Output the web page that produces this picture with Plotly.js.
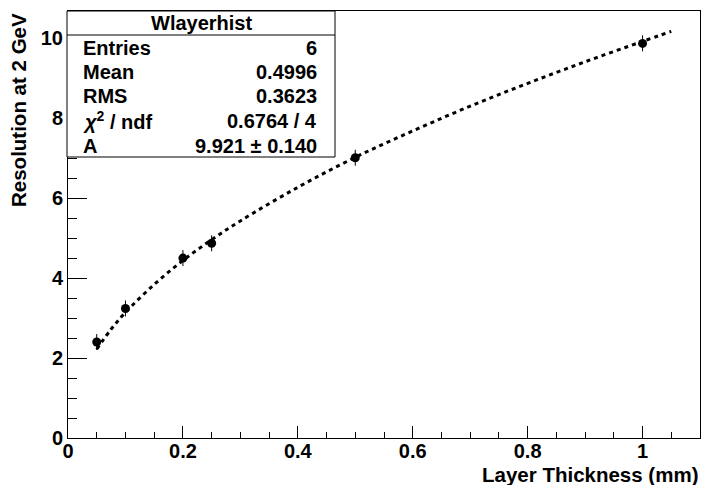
<!DOCTYPE html>
<html>
<head>
<meta charset="utf-8">
<script src="https://cdn.plot.ly/plotly-3.0.1.min.js"></script>
<style>html,body{margin:0;padding:0;background:#fff;}#chart{width:702px;height:485px;}</style>
</head>
<body>
<div id="chart"></div>
<script>
// Data points (layer thickness in mm, resolution at 2 GeV)
var thickness = [0.05, 0.1, 0.2, 0.25, 0.5, 1.0];
var resolution = [2.40, 3.24, 4.50, 4.87, 7.01, 9.87];
var resolutionErr = [0.20, 0.20, 0.20, 0.20, 0.20, 0.20];

// Fit curve
var fitX = [0.05, 0.075, 0.1, 0.15, 0.2, 0.25, 0.3, 0.4, 0.5, 0.6, 0.7, 0.8, 0.9, 1.0, 1.05];
var fitY = [2.22, 2.72, 3.14, 3.84, 4.44, 4.96, 5.43, 6.27, 7.02, 7.68, 8.30, 8.87, 9.41, 9.92, 10.17];

// Stats box
var statsTitle = "Wlayerhist";
var statsLabels = ["Entries", "Mean", "RMS", "<i>χ</i><sup>2</sup> / ndf", "A"];
var statsValues = ["6", "0.4996", "0.3623", "0.6764 / 4", "9.921 ± 0.140"];

var xTitle = "Layer Thickness (mm)";
var yTitle = "Resolution at 2 GeV";

var W = 702, H = 485;
var L = 68, R = 700, T = 11, B = 438;
function px(x){ return (x - L) / (R - L); }
function py(y){ return (B - y) / (B - T); }

var FONT = "Liberation Sans, Arial, sans-serif";

var traces = [
  {
    x: fitX, y: fitY, type: 'scatter', mode: 'lines',
    line: {color: '#000', width: 3, dash: '4px,4px', shape: 'spline'},
    hoverinfo: 'skip', showlegend: false
  },
  {
    x: thickness, y: resolution, type: 'scatter', mode: 'markers',
    marker: {color: '#000', size: 9},
    error_y: {type: 'data', array: resolutionErr, visible: true, color: '#000', thickness: 1, width: 0},
    showlegend: false
  }
];

var annotations = [];
var shapes = [];

// stats box
shapes.push({type: 'rect', xref: 'paper', yref: 'paper', x0: px(67), x1: px(335), y0: py(157), y1: py(11),
  line: {color: '#000', width: 1}, fillcolor: '#fff', layer: 'above'});
shapes.push({type: 'line', xref: 'paper', yref: 'paper', x0: px(67), x1: px(335), y0: py(35), y1: py(35),
  line: {color: '#000', width: 1}, layer: 'above'});

annotations.push({xref: 'paper', yref: 'paper', x: px(201), y: py(23), text: '<b>' + statsTitle + '</b>',
  showarrow: false, xanchor: 'center', yanchor: 'middle', font: {family: FONT, size: 20, color: '#000'}});
var rowY = [48, 72, 96, 121, 146];
for (var i = 0; i < statsLabels.length; i++) {
  annotations.push({xref: 'paper', yref: 'paper', x: px(81), y: py(rowY[i]), text: '<b>' + statsLabels[i] + '</b>',
    showarrow: false, xanchor: 'left', yanchor: 'middle', font: {family: FONT, size: 20, color: '#000'}});
  annotations.push({xref: 'paper', yref: 'paper', x: px(319), y: py(rowY[i]), text: '<b>' + statsValues[i] + '</b>',
    showarrow: false, xanchor: 'right', yanchor: 'middle', font: {family: FONT, size: 20, color: '#000'}});
}

// axis titles
annotations.push({xref: 'paper', yref: 'paper', x: 1, y: py(474), text: '<b>' + xTitle + '</b>',
  showarrow: false, xanchor: 'right', yanchor: 'middle', font: {family: FONT, size: 20.5, color: '#000'}});
annotations.push({xref: 'paper', yref: 'paper', x: px(18), y: 1, text: '<b>' + yTitle + '</b>', textangle: -90,
  showarrow: false, xanchor: 'center', yanchor: 'top', font: {family: FONT, size: 20.5, color: '#000'}});

var layout = {
  width: W, height: H,
  margin: {l: L, r: W - R, t: T, b: H - B, pad: 0},
  paper_bgcolor: '#fff', plot_bgcolor: '#fff',
  font: {family: FONT, color: '#000'},
  xaxis: {
    range: [0, 1.1], showgrid: false, zeroline: false,
    showline: true, mirror: true, linecolor: '#000', linewidth: 1,
    ticks: 'inside', ticklen: 12, tickwidth: 1, tickcolor: '#000',
    tick0: 0, dtick: 0.2,
    minor: {dtick: 0.05, ticks: 'inside', ticklen: 6, tickwidth: 1, tickcolor: '#000'},
    tickfont: {family: FONT, size: 20, color: '#000', weight: 'bold'},
    ticklabelstandoff: -5
  },
  yaxis: {
    range: [0, 10.68], showgrid: false, zeroline: false,
    showline: true, mirror: true, linecolor: '#000', linewidth: 1,
    ticks: 'inside', ticklen: 19, tickwidth: 1, tickcolor: '#000',
    tick0: 0, dtick: 2,
    minor: {dtick: 0.5, ticks: 'inside', ticklen: 9, tickwidth: 1, tickcolor: '#000'},
    tickfont: {family: FONT, size: 20, color: '#000', weight: 'bold'},
    ticklabelstandoff: 0
  },
  shapes: shapes,
  annotations: annotations
};

Plotly.newPlot('chart', traces, layout, {displayModeBar: false, staticPlot: true});
</script>
</body>
</html>
